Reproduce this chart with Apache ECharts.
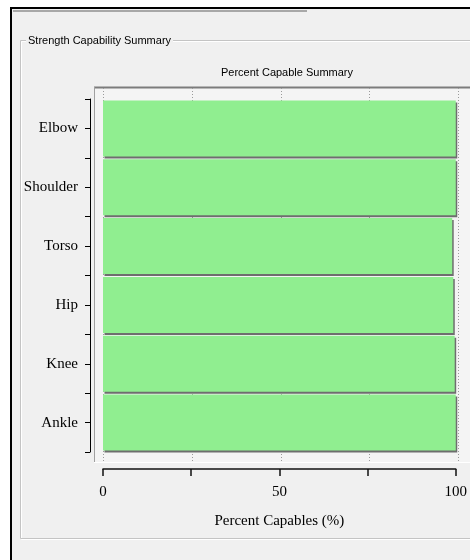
<!DOCTYPE html>
<html>
<head>
<meta charset="utf-8">
<script src="https://cdn.jsdelivr.net/npm/echarts@6/dist/echarts.min.js"></script>
<style>
  html, body { margin: 0; padding: 0; background: #ffffff; }
  #chart { width: 470px; height: 560px; }
</style>
</head>
<body>
<div id="chart"></div>
<script>
// Body segments, top to bottom, and their percent-capable values
const categories = ['Elbow', 'Shoulder', 'Torso', 'Hip', 'Knee', 'Ankle'];
const percentCapable = [100, 100, 99.0, 99.3, 99.7, 100];

// Horizontal axis ticks and which of them carry a label
const xTicks = [0, 25, 50, 75, 100];
const xTickLabels = ['0', '', '50', '', '100'];

const SERIF = "'Liberation Serif', 'DejaVu Serif', serif";
const SANS = "'Liberation Sans', Arial, sans-serif";
const PANEL = '#f0f0f0';

const chart = echarts.init(document.getElementById('chart'), null, { renderer: 'canvas' });

chart.setOption({
  backgroundColor: '#ffffff',
  animation: false,
  title: {
    text: 'Percent Capable Summary',
    left: 282,
    top: 62,
    textAlign: 'center',
    textStyle: { fontFamily: SANS, fontSize: 11, fontWeight: 'normal', color: '#000' }
  },
  graphic: [
    // window panel and its dark frame
    { type: 'rect', z: -10, shape: { x: 11, y: 8, width: 459, height: 552 }, style: { fill: PANEL } },
    { type: 'line', z: -9, shape: { x1: 11, y1: 7, x2: 11, y2: 560 }, style: { stroke: '#000', lineWidth: 2 } },
    { type: 'line', z: -9, shape: { x1: 10, y1: 8, x2: 470, y2: 8 }, style: { stroke: '#000', lineWidth: 2 } },
    { type: 'line', z: -9, shape: { x1: 13, y1: 11, x2: 307, y2: 11 }, style: { stroke: '#a8a8a8', lineWidth: 2 } },
    // etched group box
    { type: 'polyline', z: -9, shape: { points: [[470, 41.5], [21.5, 41.5], [21.5, 539.5], [470, 539.5]] }, style: { stroke: '#ffffff', lineWidth: 1, fill: null } },
    { type: 'polyline', z: -9, shape: { points: [[470, 40.5], [20.5, 40.5], [20.5, 538.5], [470, 538.5]] }, style: { stroke: '#c4c4c4', lineWidth: 1, fill: null } },
    {
      type: 'text', z: -8, x: 26, y: 41,
      style: {
        text: 'Strength Capability Summary', fill: '#000', font: '11px ' + SANS,
        verticalAlign: 'middle', backgroundColor: PANEL, padding: [0, 2]
      }
    },
    // sunken plot panel
    { type: 'rect', z: -8, shape: { x: 94, y: 87, width: 376, height: 375 }, style: { fill: '#f4f4f4' } },
    { type: 'line', z: -7, shape: { x1: 94, y1: 87.5, x2: 470, y2: 87.5 }, style: { stroke: '#7c7c7c', lineWidth: 2 } },
    { type: 'line', z: -7, shape: { x1: 94.5, y1: 87, x2: 94.5, y2: 462 }, style: { stroke: '#a0a0a0', lineWidth: 1 } },
    { type: 'line', z: -7, shape: { x1: 94, y1: 462.5, x2: 470, y2: 462.5 }, style: { stroke: '#ffffff', lineWidth: 1 } }
  ],
  grid: [
    { left: 103, right: 11.5, top: 99, bottom: 108, containLabel: false },
    { left: 103, right: 11.5, top: 88, bottom: 98, containLabel: false }
  ],
  xAxis: [
    {
      gridIndex: 0,
      type: 'value',
      min: 0,
      max: 100,
      interval: 25,
      offset: 17,
      axisLine: { show: true, onZero: false, lineStyle: { color: '#111', width: 1.5 } },
      axisTick: { show: true, inside: false, length: 7, lineStyle: { color: '#111', width: 1.5 } },
      splitLine: { show: false },
      axisLabel: {
        margin: 16,
        fontFamily: SERIF,
        fontSize: 15,
        color: '#000',
        formatter: function (v) {
          const i = xTicks.indexOf(v);
          return i >= 0 ? xTickLabels[i] : '';
        }
      },
      name: 'Percent Capables (%)',
      nameLocation: 'middle',
      nameGap: 45,
      nameTextStyle: { fontFamily: SERIF, fontSize: 15, color: '#000' }
    },
    {
      gridIndex: 1,
      type: 'value',
      min: 0,
      max: 100,
      interval: 25,
      axisLine: { show: false },
      axisTick: { show: false },
      axisLabel: { show: false },
      splitLine: { show: true, lineStyle: { color: '#9a9a9a', type: [1, 2], width: 1 } }
    }
  ],
  yAxis: [
    {
      gridIndex: 0,
      type: 'category',
      data: categories,
      inverse: true,
      position: 'left',
      offset: 13,
      axisLine: { show: true, onZero: false, lineStyle: { color: '#000', width: 1 } },
      axisTick: { show: true, alignWithLabel: true, length: 5, lineStyle: { color: '#000' } },
      axisLabel: { margin: 12, fontFamily: SERIF, fontSize: 15, color: '#000' },
      splitLine: { show: false }
    },
    {
      gridIndex: 0,
      type: 'category',
      data: categories,
      inverse: true,
      position: 'left',
      offset: 13,
      axisLine: { show: false, onZero: false },
      axisTick: { show: true, alignWithLabel: false, length: 5, lineStyle: { color: '#000' } },
      axisLabel: { show: false },
      splitLine: { show: false }
    },
    {
      gridIndex: 1,
      type: 'value',
      show: false
    }
  ],
  series: [
    {
      type: 'bar',
      xAxisIndex: 0,
      yAxisIndex: 0,
      data: percentCapable,
      barWidth: 56,
      itemStyle: {
        color: '#90ee90',
        shadowColor: '#6e6e6e',
        shadowOffsetX: 1.5,
        shadowOffsetY: 2,
        shadowBlur: 0
      }
    }
  ]
});
</script>
</body>
</html>
